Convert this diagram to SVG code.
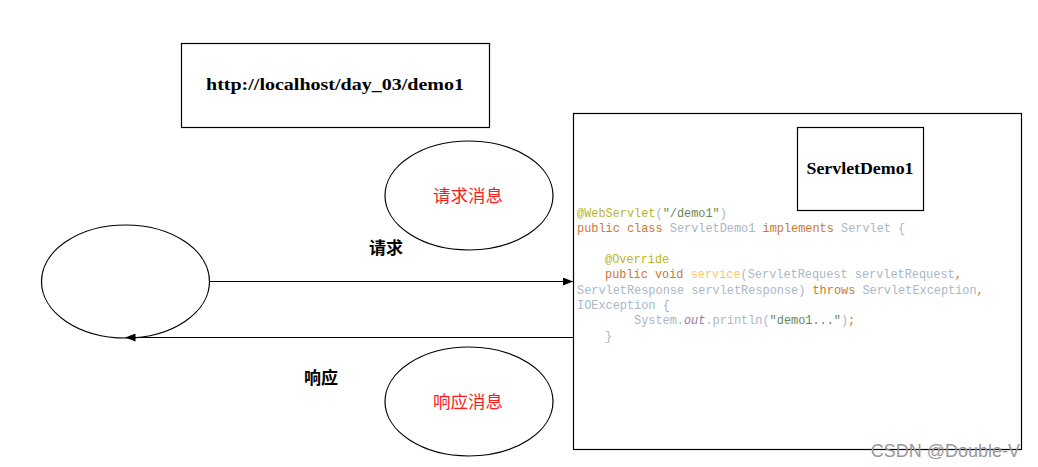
<svg xmlns="http://www.w3.org/2000/svg" width="1038" height="467" viewBox="0 0 1038 467">
<style>
.box{fill:#fff;stroke:#000;stroke-width:1.2}
.ell{fill:#fff;stroke:#000;stroke-width:1.2}
.lbl{font-family:"Liberation Serif","Noto Sans CJK SC",serif;font-weight:bold;font-size:16px;fill:#000}
.cn{font-family:"Noto Sans CJK SC",sans-serif;font-size:17.5px}
.red{fill:#ff1a1a}
.cnb{font-family:"Noto Sans CJK SC",sans-serif;font-size:17px;font-weight:bold;fill:#000}
.code{font-family:"Liberation Mono",monospace;font-size:11.9px;fill:#a9b7c6;white-space:pre}
.kw{fill:#cc7832}
.an{fill:#bbb529}
.st{fill:#6a8759}
.fn{fill:#ffc66d}
.fd{fill:#9876aa;font-style:italic}
.wm{font-family:"Liberation Sans",sans-serif;font-size:18px;fill:#999}
.conn{stroke:#000;stroke-width:1.2;fill:none}
</style>
<defs>
<marker id="arr" viewBox="0 0 10 8" refX="10" refY="4" markerWidth="10" markerHeight="8" markerUnits="userSpaceOnUse" orient="auto">
<path d="M0,0 L10,4 L0,8 Z" fill="#000"/>
</marker>
</defs>
<rect width="1038" height="467" fill="#fff"/>
<g id="url">
<rect class="box" x="181.5" y="43.5" width="308" height="84"/>
<text class="lbl" x="335" y="90" text-anchor="middle" textLength="258" lengthAdjust="spacingAndGlyphs">http://localhost/day_03/demo1</text>
</g>
<g id="server">
<rect class="box" x="573.5" y="113.5" width="448" height="336"/>
<g id="code">
<text class="code" x="577" y="217"><tspan class="an">@WebServlet</tspan>(<tspan class="st">"/demo1"</tspan>)</text>
<text class="code" x="577" y="232.3" xml:space="preserve"><tspan class="kw">public class </tspan>ServletDemo1 <tspan class="kw">implements </tspan>Servlet {</text>
<text class="code" x="605" y="263"><tspan class="an">@Override</tspan></text>
<text class="code" x="605" y="278.3" xml:space="preserve"><tspan class="kw">public void </tspan><tspan class="fn">service</tspan>(ServletRequest servletRequest<tspan class="kw">,</tspan></text>
<text class="code" x="577" y="293.6" xml:space="preserve">ServletResponse servletResponse) <tspan class="kw">throws </tspan>ServletException<tspan class="kw">,</tspan></text>
<text class="code" x="577" y="309">IOException {</text>
<text class="code" x="634" y="324.3">System.<tspan class="fd">out</tspan>.println(<tspan class="st">"demo1..."</tspan>)<tspan class="kw">;</tspan></text>
<text class="code" x="605" y="339.6">}</text>
</g>
</g>
<g id="servletdemo1">
<rect class="box" x="797.5" y="127.5" width="126" height="83"/>
<text class="lbl" x="860" y="174" text-anchor="middle" textLength="107" lengthAdjust="spacingAndGlyphs">ServletDemo1</text>
</g>
<g id="request-msg">
<ellipse class="ell" cx="469" cy="195.5" rx="84" ry="54.5"/>
<text class="cn red" x="468" y="202" text-anchor="middle">请求消息</text>
</g>
<g id="client">
<ellipse class="ell" cx="125.5" cy="281.5" rx="84" ry="56.5"/>
</g>
<g id="response-msg">
<ellipse class="ell" cx="469" cy="401.5" rx="84" ry="54.5"/>
<text class="cn red" x="468" y="408" text-anchor="middle">响应消息</text>
</g>
<g id="connectors">
<line class="conn" x1="209.5" y1="281.5" x2="573" y2="281.5" marker-end="url(#arr)"/>
<line class="conn" x1="573" y1="337.5" x2="125.5" y2="337.5" marker-end="url(#arr)"/>
<text class="cnb" x="386" y="254" text-anchor="middle">请求</text>
<text class="cnb" x="321" y="384" text-anchor="middle">响应</text>
</g>
<text class="wm" x="1020" y="457" text-anchor="end">CSDN @Double-V</text>
</svg>
